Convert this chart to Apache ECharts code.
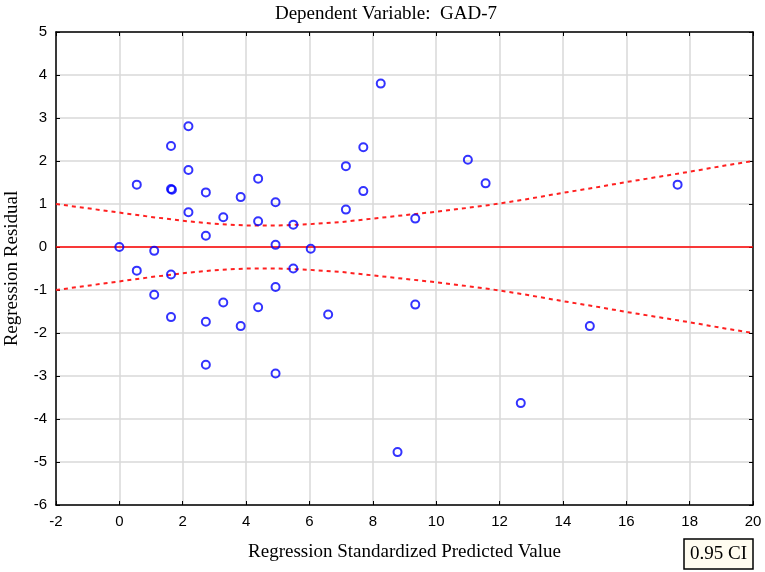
<!DOCTYPE html>
<html>
<head>
<meta charset="utf-8">
<script src="https://cdn.jsdelivr.net/npm/echarts@6/dist/echarts.min.js"></script>
<style>
  html, body { margin: 0; padding: 0; background: #fff; }
  #main { width: 765px; height: 572px; }
</style>
</head>
<body>
<div id="main"></div>
<script>
var dom = document.getElementById('main')
var chart = echarts.init(dom)

// predicted value / residual pairs
var predicted = [
    0.00, 0.55, 0.55, 1.10, 1.10, 1.63, 1.63, 1.66, 1.63, 1.63,
    2.18, 2.18, 2.18, 2.73, 2.73, 2.73, 2.73, 3.28, 3.28, 3.83,
    3.83, 4.38, 4.38, 4.38, 4.93, 4.93, 4.93, 4.93, 5.49, 5.49,
    6.04, 6.59, 7.15, 7.15, 7.70, 7.70, 8.25, 8.78, 9.34, 9.34,
    11.00, 11.56, 12.67, 14.85, 17.62
];
var residual = [
    0.00, 1.45, -0.55, -0.09, -1.11, 2.35, 1.35, 1.33, -0.64, -1.63,
    2.81, 1.79, 0.81, 1.27, 0.26, -1.74, -2.74, 0.69, -1.29, 1.16,
    -1.84, 1.59, 0.60, -1.40, 1.04, 0.05, -0.93, -2.94, 0.52, -0.50,
    -0.04, -1.57, 1.88, 0.87, 2.32, 1.30, 3.80, -4.77, 0.66, -1.34,
    2.03, 1.48, -3.63, -1.84, 1.45
];

// 0.95 confidence band
var ciX = [-2, -1, 0, 1, 2, 3, 4, 5, 6, 7, 8, 9, 10, 11, 12, 13, 14, 15, 16, 17, 18, 19, 20];
var ciUpper = [1.00, 0.90, 0.80, 0.70, 0.61, 0.54, 0.50, 0.50, 0.53, 0.58, 0.66, 0.74,
    0.82, 0.91, 1.01, 1.13, 1.26, 1.38, 1.51, 1.63, 1.75, 1.88, 2.00];
var ciLower = [-1.00, -0.90, -0.80, -0.70, -0.61, -0.54, -0.50, -0.50, -0.53, -0.58, -0.66, -0.74,
    -0.82, -0.91, -1.01, -1.13, -1.26, -1.38, -1.51, -1.63, -1.75, -1.88, -2.00];

var serif = 'Liberation Serif'
var sans = 'Liberation Sans'

function axisBase(showLabel) {
    return {
        axisLine: { show: true, onZero: false, lineStyle: { color: '#000', width: 1.5 } },
        axisTick: { show: true, inside: true, length: 4, lineStyle: { color: '#000' } },
        axisLabel: { show: showLabel, color: '#000', fontFamily: sans, fontSize: 15, margin: 9 },
        splitLine: { show: showLabel, lineStyle: { color: '#d9d9d9', width: 1.5 } }
    }
}

var options = {
    backgroundColor: '#fff',
    animation: false,
    title: {
        text: 'Dependent Variable:  GAD-7',
        left: 381,
        textAlign: 'center',
        top: 0,
        textStyle: { fontFamily: serif, fontWeight: 'normal', fontSize: 19, color: '#000' }
    },
    grid: { left: 56, right: 12, top: 32, bottom: 67, outerBoundsMode: 'none', containLabel: false },
    xAxis: [
        Object.assign(axisBase(true), {
            type: 'value', min: -2, max: 20, interval: 2, position: 'bottom',
            name: 'Regression Standardized Predicted Value',
            nameLocation: 'middle', nameGap: 38,
            nameTextStyle: { fontFamily: serif, fontSize: 19, color: '#000' }
        }),
        Object.assign(axisBase(false), {
            type: 'value', min: -2, max: 20, interval: 2, position: 'top'
        })
    ],
    yAxis: [
        Object.assign(axisBase(true), {
            type: 'value', min: -6, max: 5, interval: 1, position: 'left',
            name: 'Regression Residual',
            nameLocation: 'middle', nameGap: 34,
            nameTextStyle: { fontFamily: serif, fontSize: 19, color: '#000' }
        }),
        Object.assign(axisBase(false), {
            type: 'value', min: -6, max: 5, interval: 1, position: 'right'
        })
    ],
    series: [
        {
            type: 'line',
            data: [[-2, 0], [20, 0]],
            symbol: 'none',
            lineStyle: { color: '#ff0000', width: 1.5 },
            z: 3
        },
        {
            type: 'line',
            data: ciX.map((x, i) => [x, ciUpper[i]]),
            symbol: 'none',
            lineStyle: { color: '#ff2020', width: 2, type: [4, 4] },
            z: 3
        },
        {
            type: 'line',
            data: ciX.map((x, i) => [x, ciLower[i]]),
            symbol: 'none',
            lineStyle: { color: '#ff2020', width: 2, type: [4, 4] },
            z: 3
        },
        {
            type: 'scatter',
            data: predicted.map((x, i) => [x, residual[i]]),
            symbol: 'circle',
            symbolSize: 8,
            itemStyle: { color: 'rgba(255,255,255,0)', borderColor: '#0000ff', borderWidth: 2 },
            z: 4
        }
    ],
    graphic: [
        {
            type: 'rect',
            shape: { x: 684, y: 539, width: 69, height: 30 },
            style: { fill: '#fffcf0', stroke: '#000', lineWidth: 1.5 }
        },
        {
            type: 'text',
            x: 718.5, y: 554,
            style: {
                text: '0.95 CI', fontFamily: serif, fontSize: 19, fill: '#000',
                align: 'center', verticalAlign: 'middle'
            }
        }
    ]
}

chart.setOption(options)
</script>
</body>
</html>
